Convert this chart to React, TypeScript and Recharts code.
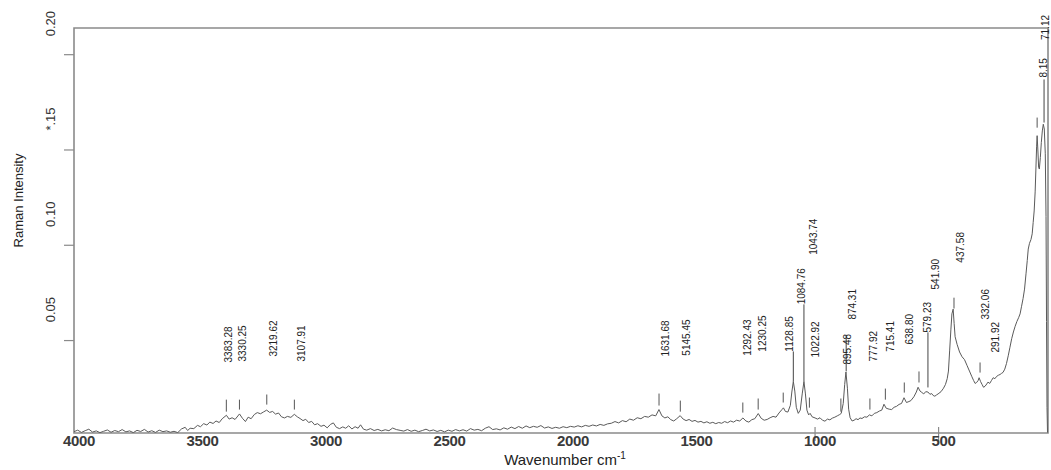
import React from 'react';
import { LineChart, Line, XAxis, YAxis, ReferenceArea, ReferenceLine, ReferenceDot } from 'recharts';

// Raman spectrum (wavenumber cm-1, intensity)
const wavenumbers = [
  4000, 3985, 3970, 3955, 3940, 3925, 3910, 3895, 3880, 3865, 3850, 3835, 3820, 3805, 3790, 3775, 3760, 3745, 3730, 3715,
  3700, 3685, 3670, 3655, 3640, 3625, 3610, 3595, 3580, 3565, 3550, 3540, 3530, 3515, 3500, 3488, 3475, 3462, 3450, 3437,
  3425, 3412, 3400, 3383, 3372, 3360, 3348, 3330, 3318, 3306, 3295, 3283, 3270, 3258, 3245, 3232, 3220, 3208, 3196, 3184,
  3172, 3160, 3148, 3136, 3122, 3108, 3096, 3085, 3073, 3062, 3050, 3038, 3026, 3014, 3000, 2988, 2975, 2962, 2950, 2938,
  2925, 2912, 2900, 2888, 2875, 2862, 2850, 2840, 2828, 2815, 2800, 2785, 2770, 2755, 2740, 2725, 2710, 2695, 2680, 2665,
  2650, 2635, 2620, 2605, 2590, 2575, 2560, 2545, 2530, 2515, 2500, 2485, 2470, 2455, 2440, 2425, 2410, 2395, 2380, 2365,
  2350, 2335, 2320, 2305, 2290, 2275, 2260, 2245, 2230, 2215, 2200, 2185, 2170, 2155, 2140, 2125, 2110, 2095, 2080, 2065,
  2050, 2035, 2020, 2005, 1990, 1975, 1960, 1945, 1930, 1915, 1900, 1885, 1870, 1855, 1840, 1825, 1810, 1795, 1780, 1765,
  1750, 1735, 1720, 1705, 1690, 1675, 1660, 1645, 1632, 1620, 1608, 1596, 1584, 1572, 1560, 1546, 1534, 1522, 1510, 1498,
  1486, 1474, 1462, 1450, 1438, 1426, 1414, 1402, 1390, 1378, 1366, 1354, 1342, 1330, 1318, 1305, 1292, 1280, 1268, 1256,
  1244, 1230, 1218, 1206, 1194, 1182, 1170, 1158, 1146, 1134, 1128, 1120, 1110, 1100, 1094, 1088, 1082, 1076, 1068, 1060,
  1052, 1045, 1039, 1033, 1026, 1020, 1012, 1000, 990, 980, 970, 960, 950, 940, 930, 920, 910, 900, 894, 886,
  880, 875, 869, 864, 858, 850, 842, 834, 826, 818, 810, 800, 790, 780, 770, 760, 750, 740, 730, 721,
  712, 700, 690, 680, 670, 660, 650, 640, 630, 620, 612, 600, 590, 583, 575, 568, 560, 552, 543, 535,
  528, 522, 515, 508, 502, 490, 480, 472, 465, 460, 455, 450, 446, 441, 437, 433, 425, 415, 405, 395,
  385, 375, 365, 358, 352, 346, 340, 336, 330, 324, 318, 312, 305, 300, 293, 286, 279, 272, 265, 258,
  251, 245, 239, 232, 225, 218, 211, 204, 197, 190, 183, 176, 170, 164, 158, 152, 146, 141, 137, 132,
  126, 121, 117, 113, 109, 106, 103, 101, 98, 95, 92, 88, 84, 80, 76, 72, 68, 65, 63, 61,
  59, 57,
];

const intensities = [
  0.0022, 0.0030, 0.0018, 0.0027, 0.0035, 0.0020, 0.0026, 0.0017, 0.0024, 0.0031, 0.0019, 0.0028, 0.0022, 0.0033, 0.0021, 0.0026, 0.0017, 0.0029, 0.0023, 0.0034,
  0.0020, 0.0027, 0.0018, 0.0030, 0.0022, 0.0026, 0.0019, 0.0024, 0.0017, 0.0036, 0.0045, 0.0028, 0.0040, 0.0038, 0.0055, 0.0048, 0.0064, 0.0057, 0.0072, 0.0065,
  0.0078, 0.0070, 0.0090, 0.0108, 0.0088, 0.0095, 0.0086, 0.0115, 0.0092, 0.0075, 0.0098, 0.0090, 0.0112, 0.0122, 0.0116, 0.0126, 0.0135, 0.0123, 0.0128, 0.0114,
  0.0120, 0.0100, 0.0094, 0.0102, 0.0097, 0.0113, 0.0100, 0.0091, 0.0080, 0.0087, 0.0070, 0.0076, 0.0058, 0.0064, 0.0050, 0.0056, 0.0042, 0.0060, 0.0068, 0.0045,
  0.0038, 0.0047, 0.0040, 0.0053, 0.0036, 0.0048, 0.0040, 0.0058, 0.0035, 0.0030, 0.0038, 0.0028, 0.0034, 0.0026, 0.0032, 0.0027, 0.0041, 0.0033, 0.0029, 0.0025,
  0.0033, 0.0024, 0.0030, 0.0022, 0.0028, 0.0035, 0.0026, 0.0031, 0.0023, 0.0029, 0.0021, 0.0030, 0.0024, 0.0033, 0.0026, 0.0032, 0.0025, 0.0038, 0.0030, 0.0034,
  0.0027, 0.0040, 0.0048, 0.0033, 0.0037, 0.0031, 0.0042, 0.0035, 0.0046, 0.0038, 0.0049, 0.0040, 0.0052, 0.0043, 0.0050, 0.0045, 0.0054, 0.0041, 0.0047, 0.0039,
  0.0045, 0.0040, 0.0048, 0.0043, 0.0050, 0.0046, 0.0053, 0.0047, 0.0055, 0.0050, 0.0057, 0.0052, 0.0060, 0.0055, 0.0063, 0.0066, 0.0075, 0.0068, 0.0080, 0.0074,
  0.0088, 0.0082, 0.0095, 0.0090, 0.0102, 0.0098, 0.0110, 0.0105, 0.0138, 0.0105, 0.0094, 0.0100, 0.0085, 0.0078, 0.0090, 0.0106, 0.0088, 0.0080, 0.0086, 0.0076,
  0.0081, 0.0072, 0.0076, 0.0068, 0.0074, 0.0066, 0.0071, 0.0064, 0.0070, 0.0066, 0.0075, 0.0069, 0.0078, 0.0072, 0.0082, 0.0078, 0.0094, 0.0078, 0.0072, 0.0085,
  0.0090, 0.0117, 0.0092, 0.0082, 0.0086, 0.0095, 0.0102, 0.0098, 0.0120, 0.0138, 0.0147, 0.0128, 0.0125, 0.0160, 0.0230, 0.0285, 0.0235, 0.0150, 0.0118, 0.0135,
  0.0220, 0.0285, 0.0220, 0.0135, 0.0110, 0.0118, 0.0100, 0.0094, 0.0088, 0.0095, 0.0082, 0.0077, 0.0088, 0.0084, 0.0093, 0.0098, 0.0105, 0.0112, 0.0118, 0.0170,
  0.0270, 0.0335, 0.0250, 0.0140, 0.0095, 0.0078, 0.0082, 0.0090, 0.0085, 0.0094, 0.0091, 0.0100, 0.0098, 0.0110, 0.0105, 0.0118, 0.0122, 0.0130, 0.0135, 0.0166,
  0.0145, 0.0140, 0.0138, 0.0150, 0.0155, 0.0165, 0.0170, 0.0200, 0.0175, 0.0180, 0.0185, 0.0205, 0.0230, 0.0255, 0.0235, 0.0228, 0.0220, 0.0232, 0.0230, 0.0218,
  0.0222, 0.0212, 0.0208, 0.0215, 0.0220, 0.0232, 0.0250, 0.0270, 0.0300, 0.0340, 0.0450, 0.0560, 0.0640, 0.0665, 0.0590, 0.0520, 0.0480, 0.0440, 0.0415, 0.0400,
  0.0370, 0.0340, 0.0310, 0.0290, 0.0275, 0.0280, 0.0290, 0.0305, 0.0285, 0.0270, 0.0255, 0.0260, 0.0272, 0.0282, 0.0275, 0.0290, 0.0305, 0.0300, 0.0312, 0.0318,
  0.0322, 0.0328, 0.0333, 0.0350, 0.0380, 0.0420, 0.0465, 0.0510, 0.0545, 0.0575, 0.0600, 0.0620, 0.0640, 0.0680, 0.0720, 0.0770, 0.0850, 0.0920, 0.0980, 0.1010,
  0.1030, 0.1060, 0.1120, 0.1180, 0.1280, 0.1400, 0.1520, 0.1575, 0.1500, 0.1410, 0.1400, 0.1460, 0.1540, 0.1600, 0.1635, 0.1610, 0.1480, 0.1150, 0.0600, 0.0150,
  0.0020, 0.0016,
];

// Axis ticks
const xTicks = [4000, 3500, 3000, 2500, 2000, 1500, 1000, 500];
const xMarkedTicks = [1000, 500];
const yTicks = [0.05, 0.1, 0.15, 0.2];
const yTickLabels = ['0.05', '0.10', '*.15', '0.20'];

// Peak labels: text, anchor wavenumber, anchor intensity (bottom of rotated text)
const peakLabels = [
  '3383.28', '3330.25', '3219.62', '3107.91', '1631.68', '5145.45', '1292.43', '1230.25', '1128.85', '1084.76',
  '1043.74', '1022.92', '895.48', '874.31', '777.92', '715.41', '638.80', '579.23', '541.90', '437.58',
  '332.06', '291.92', '8.15', '71.12',
];
const labelWavenumbers = [
  3376, 3316, 3194, 3077, 1607, 1522, 1275, 1214, 1105, 1053,
  1008, 1000, 870, 847, 765, 696, 619, 546, 514, 413,
  308, 271, 76, 66,
];
const labelIntensities = [
  0.0385, 0.0390, 0.0416, 0.0390, 0.0416, 0.0421, 0.0421, 0.0442, 0.0442, 0.0690,
  0.0950, 0.0411, 0.0374, 0.0610, 0.0390, 0.0442, 0.0479, 0.0542, 0.0768, 0.0909,
  0.0610, 0.0437, 0.1880, 0.2077,
];

// Short peak markers
const markerWavenumbers = [
  3383.28, 3330.25, 3219.62, 3107.91, 1631.68, 1545.45, 1292.43, 1230.25, 1128.85, 1022.92,
  895.48, 777.92, 715.41, 638.8, 579.23, 437.58, 332.06, 101,
];
const markerLow = [
  0.0127, 0.0138, 0.0164, 0.0138, 0.0159, 0.0127, 0.0122, 0.0138, 0.0175, 0.0148,
  0.0127, 0.0138, 0.019, 0.0227, 0.028, 0.0668, 0.0332, 0.1617,
];
const markerHigh = [
  0.019, 0.019, 0.0217, 0.019, 0.0222, 0.0185, 0.0175, 0.0196, 0.0227, 0.0201,
  0.0196, 0.0196, 0.0248, 0.028, 0.0338, 0.0725, 0.0385, 0.167,
];

// Long leader lines from labels down to peaks
const leaderWavenumbers = [1088, 1045, 874, 543, 73];
const leaderLow = [0.0285, 0.0285, 0.0338, 0.0254, 0.1644];
const leaderHigh = [0.0443, 0.069, 0.053, 0.0543, 0.187];

const X_DOMAIN: [number, number] = [57, 4000];
const Y_DOMAIN: [number, number] = [0.0015, 0.214];

const data = wavenumbers.map((w, i) => ({ w, v: intensities[i] }));

const FONT = '"Liberation Sans", Arial, Helvetica, sans-serif';
const FRAME = '#8a8a8a';

const XTick = (props: any) => {
  const { x, y, payload } = props;
  const marked = xMarkedTicks.includes(payload.value);
  return (
    <g>
      {marked && <line x1={x} x2={x} y1={y - 14} y2={y} stroke={FRAME} strokeWidth={1.2} />}
      <text
        x={x + 5}
        y={y - 1}
        textAnchor="middle"
        dominantBaseline="central"
        fontSize={15}
        fontWeight="bold"
        fontFamily={FONT}
        fill="#3a3a3a"
        letterSpacing={-0.3}
      >
        {payload.value}
      </text>
    </g>
  );
};

const YTick = (props: any) => {
  const { x, y, payload } = props;
  const idx = yTicks.indexOf(payload.value);
  const cx = x - 11;
  const cy = y - 31;
  return (
    <text
      x={cx}
      y={cy}
      transform={`rotate(-90 ${cx} ${cy})`}
      textAnchor="middle"
      dominantBaseline="central"
      fontSize={13}
      fontFamily={FONT}
      fill="#333"
    >
      {idx >= 0 ? yTickLabels[idx] : payload.value}
    </text>
  );
};

const renderXTitle = (props: any) => {
  const vb = props.viewBox || {};
  const cx = vb.x + vb.width / 2 + 4;
  const cy = vb.y + 32;
  return (
    <text x={cx} y={cy} textAnchor="middle" fontSize={15} fontFamily={FONT} fill="#222">
      Wavenumber cm
      <tspan fontSize={10} dy={-6}>-1</tspan>
    </text>
  );
};

const renderYTitle = (props: any) => {
  const vb = props.viewBox || {};
  const cx = vb.x + 18;
  const cy = vb.y + vb.height / 2 - 30;
  return (
    <text
      x={cx}
      y={cy}
      transform={`rotate(-90 ${cx} ${cy})`}
      textAnchor="middle"
      dominantBaseline="central"
      fontSize={13}
      fontFamily={FONT}
      fill="#222"
    >
      Raman Intensity
    </text>
  );
};

const makeLabelShape = (text: string) => (props: any) => {
  const { cx, cy } = props;
  return (
    <text
      x={cx}
      y={cy}
      transform={`rotate(-90 ${cx} ${cy})`}
      textAnchor="start"
      dominantBaseline="central"
      fontSize={10}
      fontFamily={FONT}
      fill="#222"
    >
      {text}
    </text>
  );
};

export default function App() {
  return (
    <div style={{ width: 1051, height: 470 }}>
      <style>{'html,body{margin:0;padding:0;overflow:hidden;}'}</style>
      <LineChart
        width={1051}
        height={470}
        data={data}
        margin={{ top: 28, right: 3, left: 0, bottom: 0 }}
      >
        <XAxis
          type="number"
          dataKey="w"
          domain={X_DOMAIN}
          reversed
          allowDataOverflow
          ticks={xTicks}
          interval={0}
          tick={<XTick />}
          tickLine={false}
          axisLine={false}
          height={37}
          label={{ content: renderXTitle }}
        />
        <YAxis
          type="number"
          domain={Y_DOMAIN}
          allowDataOverflow
          ticks={yTicks}
          interval={0}
          tick={<YTick />}
          tickSize={10}
          tickLine={{ stroke: FRAME, strokeWidth: 1.2 }}
          axisLine={false}
          width={74}
          label={{ content: renderYTitle }}
        />
        <ReferenceArea
          x1={X_DOMAIN[0]}
          x2={X_DOMAIN[1]}
          y1={Y_DOMAIN[0]}
          y2={Y_DOMAIN[1]}
          fill="none"
          fillOpacity={0}
          stroke={FRAME}
          strokeWidth={1.6}
          ifOverflow="visible"
        />
        <Line
          type="linear"
          dataKey="v"
          stroke="#5a5a5a"
          strokeWidth={1}
          dot={false}
          isAnimationActive={false}
        />
        {markerWavenumbers.map((w, i) => (
          <ReferenceLine
            key={`m${i}`}
            segment={[{ x: w, y: markerLow[i] }, { x: w, y: markerHigh[i] }]}
            stroke="#555"
            strokeWidth={1}
            ifOverflow="visible"
          />
        ))}
        {leaderWavenumbers.map((w, i) => (
          <ReferenceLine
            key={`l${i}`}
            segment={[{ x: w, y: leaderLow[i] }, { x: w, y: leaderHigh[i] }]}
            stroke="#444"
            strokeWidth={1}
            ifOverflow="visible"
          />
        ))}
        {peakLabels.map((t, i) => (
          <ReferenceDot
            key={`p${i}`}
            x={labelWavenumbers[i]}
            y={labelIntensities[i]}
            r={0}
            ifOverflow="visible"
            shape={makeLabelShape(t)}
          />
        ))}
      </LineChart>
    </div>
  );
}
